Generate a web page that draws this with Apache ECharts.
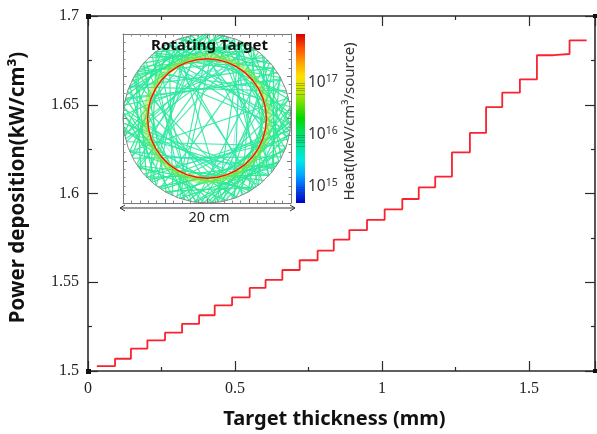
<!DOCTYPE html>
<html><head><meta charset="utf-8">
<script src="https://cdn.jsdelivr.net/npm/echarts@6/dist/echarts.min.js"></script>
<style>html,body{margin:0;padding:0;background:#fff}#c{width:597px;height:434px}</style>
</head><body><div id="c"></div>
<script>
// Main curve: left edge of each step (mm), last value closes the final step
var stepEdges = [0.030,0.092,0.146,0.202,0.262,0.320,0.378,0.431,0.490,0.550,0.604,0.661,0.720,0.781,0.836,0.889,0.949,1.009,1.069,1.125,1.181,1.238,1.299,1.354,1.409,1.469,1.527,1.583,1.638,1.696];
var stepLevels = [1.5028,1.5069,1.5126,1.5173,1.5216,1.5266,1.5314,1.5370,1.5415,1.5468,1.5513,1.5569,1.5624,1.5678,1.5740,1.5794,1.5851,1.5911,1.5969,1.6035,1.6095,1.6232,1.6341,1.6487,1.6568,1.6643,1.6779,1.6786,1.6863];
var yLabels = [1.5,1.55,1.6,1.65,1.7];
var xLabels = [0,0.5,1,1.5];
// Inset: tracks as chords of the 20 cm disc, [start angle, end angle] in degrees
var chordTracks = [[14,203],[33,171],[52,236],[67,289],[84,251],[97,318],[121,306],[143,352],[158,19],[176,303],[194,58],[216,71],[233,104],[259,127],[277,66],[296,152],[318,183],[341,196],[8,142],[44,262],[61,214],[112,281],[129,347],[167,28],[208,333],[249,88],[304,117],[352,224],
[2,124],[19,146],[37,158],[49,178],[63,191],[76,207],[89,213],[101,229],[117,246],[131,254],[146,278],[161,289],[173,298],[189,317],[203,324],[221,346],[236,358],[252,13],[266,29],[281,42],[294,56],[307,71],[321,86],[336,103],[349,118],[27,166],[71,196],[93,224],[137,262],[183,308],[229,352],[274,38],[311,79],[356,128]];
var tangentTracks = [[3,101],[17,118],[29,131],[43,146],[55,149],[64,151],[79,168],[91,192],[106,203],[116,207],[127,228],[139,241],[152,255],[166,263],[177,268],[188,291],[203,301],[214,313],[226,328],[237,337],[248,349],[257,358],[268,7],[277,16],[287,28],[299,38],[308,47],[317,59],[329,68],[339,81],[351,92],
[36,129],[46,142],[54,134],[62,139],[74,154],[81,160],[88,164],[216,303],[224,318],[234,327],[242,329],[251,326],[261,339],[270,356],[279,3],[290,14],[146,224],[157,233],[172,258],[186,274],[322,38],[332,49],[344,58],[355,77],[13,104],[32,108],
[78,146],[262,330],[103,172],[214,284],[40,110],[282,350],[148,218],[320,30],[60,128],[240,306],[176,246],[356,66],[120,190],[300,8],[92,158],[272,340]];
var cyanTracks = [[43,158],[118,22],[202,321],[284,63],[161,269],[322,74]];
var ringAngles = [0,10,20,30,40,50,60,70,80,90,100,110,120,130,140,150,160,170,180,190,200,210,220,230,240,250,260,270,280,290,300,310,320,330,340,350,360];
var ringRadius = 7.07;
var discRadius = 10;
// Colour bar
var heatLabels = [15,16,17];
var heatTicks = [14.78,14.85,14.9,14.95,15,15.78,15.85,15.9,15.95,16,16.78,16.85,16.9,16.95,17];
var heatTop = [17.94];
var heatColors = ['#0000c8','#0050ff','#00a8ff','#00e8e8','#00e8a0','#00e060','#00d800','#66e000','#c8e800','#ffe000','#ffa000','#ff5000','#d80000'];

function toXY(r,a){var t=a*Math.PI/180;return [r*Math.cos(t),r*Math.sin(t)];}
function chordData(list){return list.map(function(c){return {coords:[toXY(discRadius,c[0]),toXY(discRadius,c[1])]};});}
function ringData(r,list){return list.map(function(a){return toXY(r,a);});}

var fontF='"Noto Sans","Open Sans",sans-serif';
var serif='"Liberation Serif",serif';
var dark='#2b2b2b';
function insetAxis(pos){return {type:'value',gridIndex:1,position:pos,min:-10,max:10,interval:5,axisLine:{show:true,onZero:false,lineStyle:{color:'#777',width:1}},axisTick:{show:true,inside:true,length:4,lineStyle:{color:'#777'}},minorTick:{show:true,splitNumber:5,length:2.5,lineStyle:{color:'#888'}},axisLabel:{show:false},splitLine:{show:false},z:6};}
function mainX(pos,lab){return {type:'value',gridIndex:0,position:pos,min:0,max:1.7245,interval:0.5,axisLine:{show:true,onZero:false,lineStyle:{color:dark,width:1.6}},axisTick:{show:true,inside:true,length:10,lineStyle:{color:dark,width:1.2}},minorTick:{show:true,splitNumber:2,length:4,lineStyle:{color:dark,width:1.2}},splitLine:{show:false},axisLabel:{show:lab,showMaxLabel:false,margin:10,color:'#222',fontSize:16,fontFamily:serif,formatter:function(v){return xLabels.indexOf(v)>=0?String(v):'';}},
 name:lab?'Target thickness (mm)':'',nameLocation:'middle',nameGap:38,nameTextStyle:{fontSize:20,fontWeight:'bold',color:'#111',fontFamily:fontF,padding:[0,14,0,0]}};}
function mainY(pos,lab){return {type:'value',gridIndex:0,position:pos,min:1.5,max:1.7,interval:0.05,axisLine:{show:true,onZero:false,lineStyle:{color:dark,width:1.6}},axisTick:{show:true,inside:true,length:10,lineStyle:{color:dark,width:1.2}},minorTick:{show:true,splitNumber:2,length:4,lineStyle:{color:dark,width:1.2}},splitLine:{show:false},axisLabel:{show:lab,margin:9,color:'#222',fontSize:16,fontFamily:serif,formatter:function(v){var r=Math.round(v*100)/100;return yLabels.indexOf(r)>=0?String(r):'';}},
 name:lab?'Power deposition(kW/cm³)':'',nameLocation:'middle',nameGap:59,nameTextStyle:{fontSize:20.5,fontWeight:'bold',color:'#111',fontFamily:fontF,padding:[0,0,0,12]}};}

var chart=echarts.init(document.getElementById('c'),null,{renderer:'canvas'});
chart.setOption({
 animation:false,backgroundColor:'#fff',
 grid:[{left:88,right:2,top:16,bottom:63,outerBoundsMode:'none'},{left:123,top:34,width:168,height:169,outerBoundsMode:'none'},{left:296,top:34,width:9,height:169,outerBoundsMode:'none'}],
 xAxis:[mainX('bottom',true),mainX('top',false),insetAxis('bottom'),insetAxis('top'),
  {type:'category',gridIndex:2,data:['heat'],show:false}],
 yAxis:[mainY('left',true),mainY('right',false),insetAxis('left'),insetAxis('right'),
  {type:'value',gridIndex:2,position:'right',min:14.69,max:17.94,z:8,
   axisLine:{show:false},splitLine:{show:false},
   axisTick:{show:true,inside:true,length:9,customValues:heatTicks,lineStyle:{color:'#333',width:0.6,opacity:0.55}},
   axisLabel:{show:true,customValues:heatLabels,margin:3,color:'#333',fontFamily:fontF,
     formatter:function(v){return '{b|10}{s|'+Math.round(v)+'}';},
     rich:{b:{fontSize:15.5,color:'#333',fontFamily:fontF},s:{fontSize:10.5,color:'#333',fontFamily:fontF,verticalAlign:'top',padding:[0,0,7,0]}}},
   name:'Heat(MeV/cm³/source)',nameLocation:'middle',nameGap:37,nameRotate:90,nameTextStyle:{fontSize:15,color:'#333',fontFamily:fontF,padding:[0,6,0,0]}}],
 series:[
  {type:'line',xAxisIndex:0,yAxisIndex:0,step:'end',showSymbol:false,lineStyle:{color:'#f9232f',width:1.8},
   data:stepEdges.map(function(x,i){return [x,i<stepLevels.length?stepLevels[i]:stepLevels[stepLevels.length-1]];})},
  {type:'lines',coordinateSystem:'cartesian2d',xAxisIndex:2,yAxisIndex:2,lineStyle:{color:'#2ce88c',width:1.2,opacity:0.95},data:chordData(tangentTracks),z:2},
  {type:'lines',coordinateSystem:'cartesian2d',xAxisIndex:2,yAxisIndex:2,lineStyle:{color:'#30e8a0',width:1.1,opacity:0.95},data:chordData(chordTracks),z:2},
  {type:'lines',coordinateSystem:'cartesian2d',xAxisIndex:2,yAxisIndex:2,lineStyle:{color:'#40d8e8',width:1},data:chordData(cyanTracks),z:2},
  {type:'line',xAxisIndex:2,yAxisIndex:2,showSymbol:false,silent:true,z:3,lineStyle:{color:'#8a8a8a',width:1},data:ringData(discRadius,ringAngles)},
  {type:'line',xAxisIndex:2,yAxisIndex:2,showSymbol:false,silent:true,z:3,lineStyle:{color:'#80e838',width:5,opacity:0.5},data:ringData(ringRadius+0.35,ringAngles)},
  {type:'line',xAxisIndex:2,yAxisIndex:2,showSymbol:false,silent:true,z:4,lineStyle:{color:'#d8e820',width:2.2},data:ringData(ringRadius,ringAngles)},
  {type:'line',xAxisIndex:2,yAxisIndex:2,showSymbol:false,silent:true,z:5,lineStyle:{color:'#f01818',width:1.5},data:ringData(ringRadius,ringAngles)},
  {type:'bar',xAxisIndex:4,yAxisIndex:4,barWidth:9,data:heatTop,silent:true,
   itemStyle:{color:new echarts.graphic.LinearGradient(0,1,0,0,heatColors.map(function(c,i){return {offset:i/(heatColors.length-1),color:c};}))}}
 ],
 graphic:[
  {type:'text',z:20,style:{text:'Rotating Target',x:209.5,y:46,align:'center',verticalAlign:'middle',font:'bold 15px '+fontF,fill:'#111'}},
  {type:'text',z:20,style:{text:'20 cm',x:209,y:218,align:'center',verticalAlign:'middle',font:'14.5px '+fontF,fill:'#222'}},
  {type:'line',z:20,shape:{x1:120,y1:208,x2:295,y2:208},style:{stroke:'#333',lineWidth:1}},
  {type:'polyline',z:20,shape:{points:[[125,205],[120,208],[125,211]]},style:{stroke:'#333',lineWidth:1,fill:null}},
  {type:'polyline',z:20,shape:{points:[[290,205],[295,208],[290,211]]},style:{stroke:'#333',lineWidth:1,fill:null}},
  {type:'rect',z:20,shape:{x:86,y:14,width:5,height:5},style:{fill:'#111'}},
  {type:'rect',z:20,shape:{x:86,y:369,width:5,height:5},style:{fill:'#111'}},
  {type:'rect',z:20,shape:{x:593,y:14,width:4,height:4},style:{fill:'#111'}},
  {type:'rect',z:20,shape:{x:593,y:369,width:4,height:4},style:{fill:'#111'}}
 ]
});
</script></body></html>
